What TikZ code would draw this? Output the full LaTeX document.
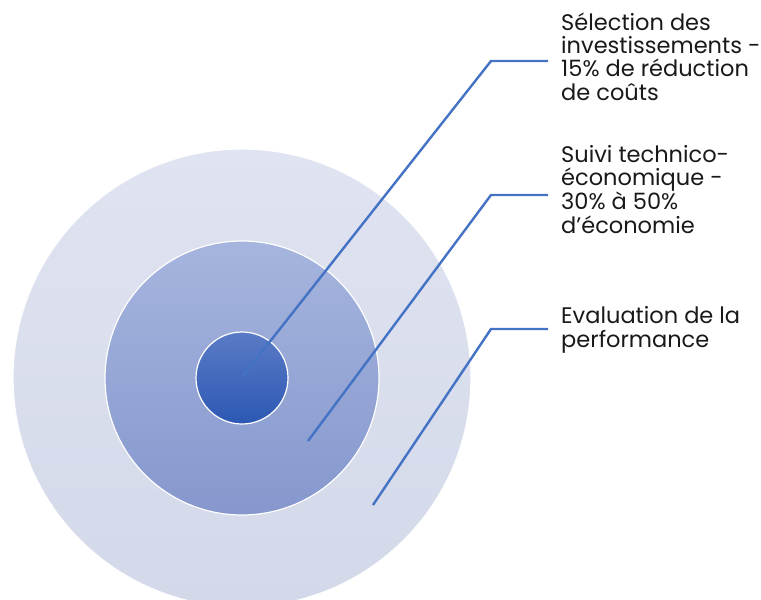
\documentclass[tikz,border=0pt]{standalone}
\usepackage{fontspec}
\setmainfont{Poppins}
\definecolor{linec}{HTML}{4472C4}
\definecolor{outtop}{HTML}{E0E3F1}
\definecolor{outbot}{HTML}{D3D9E9}
\definecolor{midtop}{HTML}{A6B5DE}
\definecolor{midbot}{HTML}{8597CD}
\definecolor{intop}{HTML}{5A7BC6}
\definecolor{inbot}{HTML}{2C58B3}
\tikzset{
  ring/.style={circle, draw=white, line width=1.2pt, inner sep=0pt},
  leader/.style={draw=linec, line width=2.4pt},
  lbl/.style={anchor=base west, align=left, inner sep=0pt, font=\fontsize{22.5}{23.2}\selectfont, text=black!90}
}
\begin{document}
\begin{tikzpicture}[x=1pt,y=-1pt]
\useasboundingbox (0,0) rectangle (761,600);
\begin{scope}
\clip (0,0) rectangle (761,600);
\node[ring, minimum size=458pt, top color=outtop, bottom color=outbot] (outer) at (242,378) {};
\end{scope}
\node[ring, minimum size=274pt, top color=midtop, bottom color=midbot] (mid) at (242,378) {};
\node[ring, minimum size=92pt, top color=intop, bottom color=inbot] (inner) at (242,378) {};
\coordinate (e1) at (242,377);
\coordinate (e2) at (308,441);
\coordinate (e3) at (373,505);
\coordinate (k1) at (491,61);
\coordinate (k2) at (491,195);
\coordinate (k3) at (491,329);
\coordinate (t1) at (548,61);
\coordinate (t2) at (548,195);
\coordinate (t3) at (548,329);
\draw[leader] (e1) -- (k1) -- (t1);
\draw[leader] (e2) -- (k2) -- (t2);
\draw[leader] (e3) -- (k3) -- (t3);
\node[lbl] (l1) at (561,100) {Sélection des\\investissements -\\15\% de réduction\\de coûts};
\node[lbl] (l2) at (561,233) {Suivi technico-\\économique -\\30\% à 50\%\\d\char39économie};
\node[lbl] (l3) at (561,347) {Evaluation de la\\performance};
\end{tikzpicture}
\end{document}
